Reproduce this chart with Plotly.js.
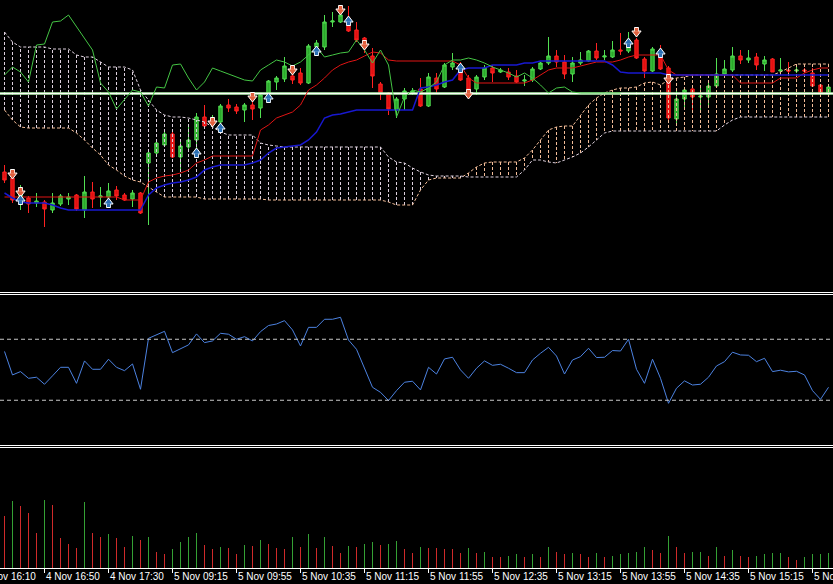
<!DOCTYPE html>
<html><head><meta charset="utf-8">
<script src="https://cdn.plot.ly/plotly-3.0.1.min.js"></script>
<style>html,body{margin:0;padding:0;background:#000;}#chart{width:833px;height:584px;}</style>
</head><body><div id="chart"></div>
<script>
// ---------------- DATA (price in pips above a baseline) ----------------
const barCount = 104;
const barIndex = Array.from({length: barCount}, (_, i) => i);

const candleOpen  = [128,122,100,102,97,98,90,96,101,105,90,108,103,103,110,105,101,107,137,147,155,166,143,153,160,183,178,178,195,193,190,195,192,207,218,221,224,227,217,253,253,278,278,282,270,262,244,216,207,190,201,207,211,194,222,213,233,232,222,211,223,232,228,228,224,219,220,231,237,244,238,226,237,239,249,243,243,250,249,260,241,229,243,232,181,201,211,203,203,214,226,230,244,240,243,236,241,229,230,229,230,227,215,206];
const candleHigh  = [135,124,115,104,107,100,107,106,107,106,124,118,113,117,114,107,110,108,150,160,168,168,160,173,187,195,185,196,201,196,197,201,207,220,224,243,235,232,256,260,285,288,290,294,278,263,252,218,208,203,212,212,222,227,227,237,247,238,225,225,235,235,232,232,230,225,233,238,263,250,245,243,248,250,257,250,259,267,268,262,243,253,255,234,212,213,213,212,218,242,240,253,250,250,247,244,242,242,238,235,232,232,216,215];
const candleLow   = [117,97,90,87,93,73,87,94,95,89,82,92,93,100,100,99,93,86,75,144,153,142,130,150,150,173,172,175,188,186,178,180,182,200,210,218,216,215,216,252,250,273,277,268,258,247,212,200,185,182,190,205,193,193,207,212,230,219,207,205,220,218,227,220,217,214,218,230,235,233,221,218,235,238,240,240,242,245,247,241,222,228,230,180,175,193,188,187,194,212,225,228,236,237,230,229,228,227,227,227,227,213,206,204];
const candleClose = [120,100,105,96,99,91,97,104,103,91,108,101,104,109,104,100,107,87,147,157,166,143,154,160,183,174,182,194,192,189,195,191,205,219,222,234,220,217,254,257,278,279,285,269,260,252,224,207,191,201,209,209,194,223,211,235,237,220,210,223,232,227,230,223,218,220,231,237,244,238,226,237,240,249,242,244,250,249,260,242,229,251,231,182,201,210,203,204,214,226,231,244,240,242,235,240,228,230,229,230,229,214,207,213];

const tenkanSen = [103,103,103,103,103,103,103,103,103,103,103,103,103,103,103,100,100,100,118,122,124,125,127,130,137,140,144,144,144,144,144,144,170,175,182,185,188,195,210,215,222,230,235,238,240,244,248,247,240,239,239,239,239,239,239,239,239,235,222,217,217,217,217,217,217,217,220,225,230,232,232,232,234,236,238,238,238,240,243,245,245,245,245,230,225,225,225,225,225,225,225,225,217,217,217,217,217,222,222,222,227,230,232,232];
const kijunSen  = [107,102,98,97,97,97,95,92,90,90,90,90,90,90,90,90,90,90,105,112,115,117,118,120,123,130,133,135,135,135,135,137,140,147,152,153,154,155,160,168,182,185,186,188,190,190,190,190,190,190,190,190,212,213,215,218,220,230,232,232,232,235,235,235,235,237,237,239,239,239,239,239,239,239,239,239,235,228,227,227,227,227,227,225,225,225,225,225,225,225,225,225,225,225,225,225,225,225,225,225,225,225,225,225];
const chikouSpan = [225,233,228,218,255,256,278,279,285,273,262,250,217,208,191,200,210,208,194,213,212,235,236,222,210,218,232,229,226,223,220,219,230,235,240,238,234,238,245,253,243,245,247,248,260,250,237,250,235,183,203,210,208,212,218,235,240,240,242,240,237,233,230,227,223,227,222,215,207,212,213,208,207,207,207,207,207,207];
const senkouSpanA = [190,180,173,172,172,172,172,172,172,167,160,152,145,135,130,124,120,118,113,108,103,103,103,103,103,101,101,101,101,101,101,101,101,100,100,100,100,100,100,100,100,100,100,100,100,100,100,100,98,95,95,95,110,120,122,122,122,122,127,133,137,138,138,138,138,142,150,160,170,173,174,174,185,195,202,207,210,212,212,213,217,218,215,220,222,223,225,225,225,225,225,225,225,225,225,225,225,228,232,236,236,236,236,236];
const senkouSpanB = [268,258,253,253,253,253,251,251,251,245,243,243,238,233,233,233,230,210,200,190,185,183,183,182,180,178,173,168,165,165,165,165,157,155,154,153,153,153,153,153,153,153,153,153,153,153,153,153,143,138,137,132,128,125,124,124,124,124,123,123,123,123,123,123,123,130,140,140,138,137,140,143,147,153,160,167,169,169,169,169,169,169,169,169,169,169,169,169,169,169,175,180,183,183,183,183,183,183,183,183,183,183,183,183];
const levelLine = 206.5;

const sellArrowBars   = [1,2,26,31,36,42,45,58,79,83];
const sellArrowLevels = [126,108,178,203,230,290,255,206,268,221];
const buyArrowBars    = [2,13,24,27,33,39,43,57,78,82];
const buyArrowLevels  = [100,97,147,172,202,249,279,232,257,247];

const rsiValues = [62,46.6,48.8,44.4,45.1,40.5,46.0,51.6,51.6,41.1,55.8,50.3,50.3,56.9,51.6,49.4,53.8,37.2,70.6,72.8,75.2,61.2,63.9,66.3,73.5,67.8,68.9,73.9,73.3,70.0,71.7,68.9,75.0,79.0,80.0,82.2,76.1,65.6,77.8,77.8,83.1,83.1,84.4,69.5,63.4,51.4,38.5,35.2,29.8,36.3,41.8,42.5,36.8,51.6,47.2,57.1,58.2,49.9,44.4,51.0,55.8,52.9,53.6,51.0,48.1,48.1,56.4,60.8,64.7,59.0,47.2,56.4,58.6,64.1,58.0,58.2,62.6,62.3,70.0,50.3,41.1,56.9,44.4,28.0,37.9,42.7,40.0,40.5,45.1,52.5,55.3,61.5,59.7,59.5,55.3,57.5,48.8,49.7,48.6,49.0,46.6,36.3,30.6,38.5];
const rsiLevels = [70, 30];

const tickVolume = [520,670,620,550,350,680,630,300,240,200,660,350,310,340,300,210,320,280,310,160,140,190,260,310,350,230,190,210,200,140,230,225,280,240,200,195,310,210,340,200,310,220,150,220,210,240,260,230,240,270,190,150,207,205,203,193,192,147,197,153,163,113,107,120,140,113,137,107,207,157,137,147,145,113,153,107,123,137,147,163,207,180,153,320,213,147,157,160,123,213,123,180,117,113,120,137,147,150,113,80,107,137,140,147];

const tickBars   = [-3,5,13,21,29,37,45,53,61,69,77,85,93,101];
const tickLabels = ['4 Nov 16:10','4 Nov 16:50','4 Nov 17:30','5 Nov 09:15','5 Nov 09:55','5 Nov 10:35','5 Nov 11:15','5 Nov 11:55','5 Nov 12:35','5 Nov 13:15','5 Nov 13:55','5 Nov 14:35','5 Nov 15:15','5 Nov 15:55'];

// ---------------- STYLE / LAYOUT CONSTANTS ----------------
const plotH = 568;                    // plot-area height in px
const pxPerBar = 8;
const xStart = -0.5625;
const xRange = [xStart, xStart + 833 / pxPerBar];
const dom = (top, bot) => [1 - bot / plotH, 1 - top / plotH];
const pyPaper = py => 1 - py / plotH;

const C = {
  thistle: '#ddd0dd', sandy: '#f2bc98',
  tenkan: '#e01414', kijun: '#1818d0', chikou: '#44c444',
  upLine: '#52e052', upFill: '#2aa82a', dnLine: '#ff2222', dnFill: '#e01010',
  sell: '#e2603e', buy: '#2a6fb4',
  rsi: '#4c82e0', volUp: '#34a034', volDn: '#d02a2a'
};

// ---------------- TRACES ----------------
const traces = [];

// Ichimoku cloud hatch: vertical dashed strokes between the spans at every bar
function hatch(cond, color) {
  const x = [], y = [];
  barIndex.forEach(k => {
    if (cond(senkouSpanA[k], senkouSpanB[k])) {
      x.push(k, k, null); y.push(senkouSpanA[k], senkouSpanB[k], null);
    }
  });
  return {type: 'scatter', mode: 'lines', x, y, xaxis: 'x', yaxis: 'y',
          line: {color, width: 1, dash: '3px,2px'}, hoverinfo: 'skip'};
}
traces.push(hatch((a, b) => b >= a, C.thistle));
traces.push(hatch((a, b) => a > b, C.sandy));
traces.push({type: 'scatter', mode: 'lines', x: barIndex, y: senkouSpanA, yaxis: 'y',
             line: {color: C.sandy, width: 1, dash: '3px,2px'}, hoverinfo: 'skip'});
traces.push({type: 'scatter', mode: 'lines', x: barIndex, y: senkouSpanB, yaxis: 'y',
             line: {color: C.thistle, width: 1, dash: '3px,2px'}, hoverinfo: 'skip'});

// candles
traces.push({
  type: 'candlestick', x: barIndex, open: candleOpen, high: candleHigh, low: candleLow, close: candleClose,
  xaxis: 'x', yaxis: 'y', whiskerwidth: 0,
  increasing: {line: {color: C.upLine, width: 1}, fillcolor: C.upFill},
  decreasing: {line: {color: C.dnLine, width: 1}, fillcolor: C.dnFill},
  hoverinfo: 'skip'
});

// horizontal level line
traces.push({type: 'scatter', mode: 'lines', x: xRange, y: [levelLine, levelLine], yaxis: 'y',
             line: {color: '#8ee08a', width: 2.6}, hoverinfo: 'skip'});
traces.push({type: 'scatter', mode: 'lines', x: xRange, y: [levelLine, levelLine], yaxis: 'y',
             line: {color: '#fbfff8', width: 1.6}, hoverinfo: 'skip'});

// Ichimoku lines
traces.push({type: 'scatter', mode: 'lines', x: barIndex, y: tenkanSen, yaxis: 'y',
             line: {color: C.tenkan, width: 1}, hoverinfo: 'skip'});
traces.push({type: 'scatter', mode: 'lines', x: barIndex, y: kijunSen, yaxis: 'y',
             line: {color: C.kijun, width: 1.5}, hoverinfo: 'skip'});
traces.push({type: 'scatter', mode: 'lines', x: barIndex.slice(0, chikouSpan.length), y: chikouSpan, yaxis: 'y',
             line: {color: C.chikou, width: 1}, hoverinfo: 'skip'});

// arrows (stem + head, white outline, then a cover for the joint)
function arrow(bars, levels, dir, color) {
  const s = dir === 'down' ? 1 : -1;         // stem side (value units = px)
  const stemY = levels.map(v => v + s * 2.5);
  const headY = levels.map(v => v - s * 1);
  const coverY = levels.map(v => v + s * 2);
  const mk = (y, symbol, size, lw) => ({type: 'scatter', mode: 'markers', x: bars, y, yaxis: 'y',
      marker: {symbol, size, color, line: {color: '#ffffff', width: lw}}, hoverinfo: 'skip'});
  return [mk(stemY, 'square', 4, 1),
          mk(headY, dir === 'down' ? 'triangle-down' : 'triangle-up', 8, 1),
          mk(coverY, 'square', 3.5, 0)];
}
traces.push(...arrow(sellArrowBars, sellArrowLevels, 'down', C.sell));
traces.push(...arrow(buyArrowBars, buyArrowLevels, 'up', C.buy));

// RSI
traces.push({type: 'scatter', mode: 'lines', x: barIndex, y: rsiValues, xaxis: 'x', yaxis: 'y2',
             line: {color: C.rsi, width: 1}, hoverinfo: 'skip'});

// Volumes (green when above the previous bar's volume)
traces.push({type: 'bar', x: barIndex, y: tickVolume, xaxis: 'x', yaxis: 'y3', width: 0.14,
             marker: {color: tickVolume.map((v, i) => (i > 0 && v > tickVolume[i - 1]) ? C.volUp : C.volDn),
                      line: {width: 0}}, hoverinfo: 'skip'});

// ---------------- LAYOUT ----------------
const shapes = [];
[292.5, 294.5, 445.5, 447.5].forEach(py => shapes.push({type: 'line', xref: 'paper', yref: 'paper',
  x0: 0, x1: 1, y0: pyPaper(py), y1: pyPaper(py), line: {color: '#ffffff', width: 1}}));
rsiLevels.forEach(v => shapes.push({type: 'line', xref: 'paper', yref: 'y2', x0: 0, x1: 1, y0: v, y1: v,
  line: {color: '#c8c8c8', width: 1, dash: '4px,3px'}}));

const annotations = tickLabels.map((t, i) => {
  const ax = Math.max(tickBars[i], xStart + 0.001);
  return {xref: 'x', yref: 'paper', x: ax, y: 0, xanchor: 'left', yanchor: 'top',
          xshift: (tickBars[i] - ax) * pxPerBar + 1, yshift: -3, text: t, showarrow: false,
          borderpad: 0, borderwidth: 0,
          font: {family: 'Liberation Sans, Arial, sans-serif', size: 10, color: '#ffffff'}};
});

const hidden = {visible: false, fixedrange: true, showgrid: false, zeroline: false};
const layout = {
  width: 833, height: 584,
  margin: {l: 0, r: 0, t: 0, b: 16, pad: 0},
  paper_bgcolor: '#000000', plot_bgcolor: '#000000',
  showlegend: false, boxgap: 0.4, bargap: 0,
  xaxis: {range: xRange, anchor: 'y3', showgrid: false, zeroline: false, fixedrange: true,
          showline: true, linecolor: '#ffffff', linewidth: 1,
          ticks: 'outside', ticklen: 4, tickwidth: 1, tickcolor: '#ffffff',
          tickmode: 'array', tickvals: tickBars, showticklabels: false,
          rangeslider: {visible: false}},
  yaxis: Object.assign({domain: dom(0, 292), range: [8, 300]}, hidden),
  yaxis2: Object.assign({domain: dom(293.5, 446), range: [0, 100]}, hidden),
  yaxis3: Object.assign({domain: dom(448, 568), range: [0, 1200]}, hidden),
  shapes, annotations
};

Plotly.newPlot('chart', traces, layout, {staticPlot: true, displayModeBar: false});
</script></body></html>
